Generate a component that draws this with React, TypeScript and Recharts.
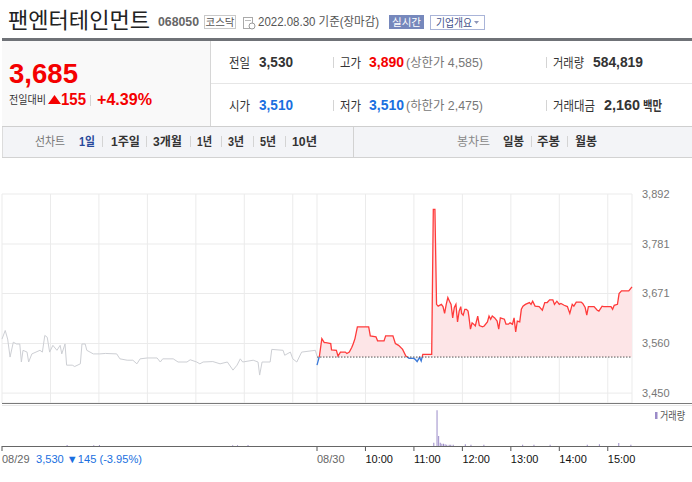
import React from 'react';
import { ComposedChart, Line, Area, Bar, XAxis, YAxis, CartesianGrid, ReferenceLine } from 'recharts';

const FONT = "'Liberation Sans', 'Noto Sans CJK KR', sans-serif";

// 08/29 line, minutes after 09:00
const prevMinutes = [0, 4, 7, 10, 14, 18, 22, 24, 26, 31, 33, 37, 47, 50, 53, 56, 59, 63, 68, 72, 74, 78, 80, 87, 90, 97, 99, 103, 105, 109, 113, 121, 128, 142, 146, 155, 162, 167, 171, 180, 192, 196, 199, 212, 218, 229, 233, 241, 245, 249, 261, 270, 279, 286, 291, 295, 298, 311, 317, 319, 322, 332, 334, 348, 350, 357, 360, 365, 371, 388, 390];
const prevPrices = [3570, 3589, 3570, 3530, 3563, 3559, 3559, 3519, 3545, 3541, 3519, 3537, 3545, 3541, 3578, 3574, 3541, 3556, 3545, 3556, 3537, 3559, 3512, 3512, 3509, 3515, 3559, 3559, 3545, 3541, 3537, 3537, 3538, 3537, 3526, 3523, 3523, 3515, 3526, 3528, 3528, 3519, 3526, 3526, 3519, 3519, 3524, 3519, 3515, 3519, 3520, 3515, 3519, 3501, 3512, 3526, 3519, 3523, 3519, 3490, 3519, 3519, 3547, 3545, 3534, 3541, 3526, 3519, 3541, 3545, 3532];

// 08/30 line, minutes after 09:00
const todayMinutes = [0, 3, 6, 9, 11, 17, 18, 24, 26, 29, 35, 37, 40, 43, 45, 47, 50, 64, 66, 73, 75, 83, 85, 94, 97, 101, 106, 110, 114, 120, 122, 124, 127, 129, 131, 142, 144, 146, 148, 150, 154, 156, 158, 160, 162, 164, 166, 168, 170, 172, 174, 176, 178, 179, 181, 183, 185, 187, 188, 190, 192, 194, 196, 199, 201, 205, 207, 211, 213, 215, 217, 220, 223, 225, 227, 232, 234, 237, 239, 242, 244, 246, 248, 251, 253, 255, 258, 263, 265, 267, 270, 275, 279, 282, 285, 288, 292, 294, 297, 300, 302, 306, 310, 313, 316, 318, 321, 327, 329, 332, 334, 336, 343, 347, 349, 353, 355, 364, 366, 368, 372, 374, 377, 386, 390];
const todayPrices = [3512, 3532, 3571, 3562, 3562, 3560, 3546, 3545, 3532, 3541, 3541, 3538, 3541, 3551, 3560, 3571, 3597, 3597, 3577, 3575, 3566, 3566, 3577, 3577, 3560, 3556, 3547, 3532, 3527, 3527, 3524, 3520, 3529, 3521, 3536, 3536, 3858, 3858, 3647, 3643, 3647, 3642, 3627, 3647, 3662, 3654, 3647, 3617, 3640, 3647, 3608, 3632, 3642, 3627, 3623, 3636, 3636, 3632, 3621, 3592, 3606, 3603, 3599, 3621, 3600, 3597, 3599, 3608, 3621, 3614, 3621, 3617, 3610, 3592, 3617, 3614, 3603, 3603, 3606, 3603, 3617, 3586, 3610, 3608, 3636, 3643, 3647, 3651, 3647, 3654, 3643, 3642, 3634, 3651, 3651, 3657, 3657, 3647, 3654, 3647, 3649, 3645, 3642, 3627, 3647, 3643, 3652, 3652, 3649, 3640, 3623, 3642, 3642, 3634, 3632, 3643, 3642, 3642, 3636, 3645, 3647, 3671, 3677, 3677, 3686];

const prevClose = 3530;
const priceTicks = [3450, 3560, 3671, 3781, 3892];

// volume bars
const volPrevMinutes = [81, 114, 121, 286, 292, 305];
const volPrevValues = [6000, 5000, 6000, 5000, 5000, 6000];
const volTodayMinutes = [145, 149, 151, 153, 155, 157, 159, 161, 164, 166, 169, 184, 191, 207, 255, 269, 289, 335, 350, 374, 389];
const volTodayValues = [19000, 210000, 58000, 19000, 13500, 13500, 10000, 8000, 8000, 8000, 8000, 10000, 8000, 8000, 8000, 8000, 8000, 8000, 10000, 17500, 8000];

const gridTicks = [0, 60, 120, 180, 240, 300, 360, 390, 450, 510, 570, 630, 690, 750];
const axisTicks = [0, 390, 450, 510, 570, 630, 690, 750];
const axisLabels = ['08/29', '08/30', '10:00', '11:00', '12:00', '13:00', '14:00', '15:00'];

const DAY = 390;

const priceRows = [
  ...prevMinutes.map((m, i) => ({ t: m, prev: prevPrices[i] })),
  ...todayMinutes.map((m, i) => ({ t: DAY + m, today: todayPrices[i] })),
];
const volRows = [
  ...volPrevMinutes.map((m, i) => ({ t: m, vol: volPrevValues[i] })),
  ...volTodayMinutes.map((m, i) => ({ t: DAY + m, vol: volTodayValues[i] })),
];

const tMax = Math.max(...todayPrices);
const tMin = Math.min(...todayPrices, prevClose);
const split = (tMax - prevClose) / (tMax - tMin);

const RED = '#f40000';
const BLUE = '#1a6fe0';

const T = ({ x, y, w, size = 13, color = '#333', bold = false, anchor, children }: any) => (
  <text
    x={x}
    y={y}
    fontSize={size}
    fill={color}
    fontWeight={bold ? 'bold' : 'normal'}
    textLength={w}
    lengthAdjust={w ? 'spacingAndGlyphs' : undefined}
    textAnchor={anchor}
  >
    {children}
  </text>
);

const Sep = ({ x, y1, y2 }: any) => <line x1={x + 0.5} x2={x + 0.5} y1={y1} y2={y2} stroke="#d4d4d4" />;

const Header = () => (
  <svg width={692} height={160} style={{ position: 'absolute', left: 0, top: 0, fontFamily: FONT }}>
    <T x={8} y={28} w={142} size={22} color="#222">팬엔터테인먼트</T>
    <T x={158} y={26} w={41} size={12.5} color="#666" bold>068050</T>
    <rect x={204.5} y={15.5} width={31} height={13} fill="#fff" stroke="#c9c9c9" />
    <T x={220} y={26} size={10.5} color="#555" anchor="middle">코스닥</T>
    <rect x={243.5} y={17.5} width={9} height={11} fill="#fff" stroke="#aaa" />
    <line x1={245} x2={251} y1={20.5} y2={20.5} stroke="#bbb" />
    <circle cx={252} cy={26} r={3} fill="#fff" stroke="#999" />
    <T x={258} y={26} w={121} size={12.5} color="#555">2022.08.30 기준(장마감)</T>
    <rect x={389} y={15} width={35} height={14} fill="#7688bc" />
    <T x={406.5} y={26} size={10.5} color="#fff" anchor="middle">실시간</T>
    <rect x={430.5} y={15.5} width={54} height={14} fill="#fff" stroke="#a9b4d8" />
    <T x={436} y={26.5} w={36} size={11} color="#41508a">기업개요</T>
    <path d="M474 21 L479 21 L476.5 24 Z" fill="#8d96b8" />

    <rect x={2} y={38} width={690} height={3} fill="#6f7277" />
    <rect x={2} y={41} width={208} height={85} fill="#f9f9f9" />
    <line x1={210.5} x2={210.5} y1={41} y2={126} stroke="#d6d6d6" />
    <line x1={211} x2={692} y1={83.5} y2={83.5} stroke="#e6e6e6" />
    <line x1={2} x2={692} y1={126.5} y2={126.5} stroke="#cfcfcf" />

    <T x={9} y={83} w={69} size={28} color={RED} bold>3,685</T>
    <T x={9} y={104} w={37} size={11.5} color="#333">전일대비</T>
    <path d="M48 104 L54.5 95 L61 104 Z" fill={RED} />
    <T x={61} y={105} w={25} size={16} color={RED} bold>155</T>
    <Sep x={90} y1={95} y2={106} />
    <T x={97} y={105} w={55} size={16} color={RED} bold>+4.39%</T>

    <T x={229} y={67} w={21} size={13}>전일</T>
    <T x={259} y={67} w={34} size={14} bold>3,530</T>
    <Sep x={333} y1={57} y2={68} />
    <T x={340} y={67} w={21} size={13}>고가</T>
    <T x={369} y={67} w={35} size={14} color={RED} bold>3,890</T>
    <T x={406} y={67} w={77} size={12.5} color="#777">(상한가 4,585)</T>
    <Sep x={546} y1={57} y2={68} />
    <T x={553} y={67} w={31} size={13}>거래량</T>
    <T x={593} y={67} w={50} size={14} bold>584,819</T>

    <T x={229} y={110} w={21} size={13}>시가</T>
    <T x={259} y={110} w={34} size={14} color={BLUE} bold>3,510</T>
    <Sep x={333} y1={100} y2={111} />
    <T x={340} y={110} w={21} size={13}>저가</T>
    <T x={369} y={110} w={35} size={14} color={BLUE} bold>3,510</T>
    <T x={406} y={110} w={77} size={12.5} color="#777">(하한가 2,475)</T>
    <Sep x={546} y1={100} y2={111} />
    <T x={553} y={110} w={42} size={13}>거래대금</T>
    <T x={604} y={110} w={36} size={14} bold>2,160</T>
    <T x={643} y={110} w={19} size={13} bold>백만</T>

    <rect x={2} y={127} width={690} height={30} fill="#f3f4f7" />
    <line x1={2} x2={692} y1={157.5} y2={157.5} stroke="#d2d2d2" />
    <line x1={2.5} x2={2.5} y1={127} y2={157} stroke="#dcdcdc" />
    <line x1={353.5} x2={353.5} y1={127} y2={157} stroke="#d2d2d2" />
    <T x={35} y={146} w={30} size={12.5} color="#777">선차트</T>
    <T x={79} y={146} w={16} size={12.5} color="#27489a" bold>1일</T>
    <Sep x={102} y1={136} y2={147} />
    <T x={111} y={146} w={29} size={12.5} bold>1주일</T>
    <Sep x={146} y1={136} y2={147} />
    <T x={153} y={146} w={29} size={12.5} bold>3개월</T>
    <Sep x={190} y1={136} y2={147} />
    <T x={197} y={146} w={15} size={12.5} bold>1년</T>
    <Sep x={221} y1={136} y2={147} />
    <T x={228} y={146} w={16} size={12.5} bold>3년</T>
    <Sep x={253} y1={136} y2={147} />
    <T x={260} y={146} w={16} size={12.5} bold>5년</T>
    <Sep x={285} y1={136} y2={147} />
    <T x={292} y={146} w={25} size={12.5} bold>10년</T>
    <T x={457} y={146} w={33} size={12.5} color="#888">봉차트</T>
    <T x={503} y={146} w={21} size={12.5} bold>일봉</T>
    <Sep x={531} y1={136} y2={147} />
    <T x={537} y={146} w={23} size={12.5} bold>주봉</T>
    <Sep x={567} y1={136} y2={147} />
    <T x={575} y={146} w={22} size={12.5} bold>월봉</T>
  </svg>
);

const TimeTick = (props: any) => {
  const { x, y, payload } = props;
  const i = axisTicks.indexOf(payload.value);
  const label = axisLabels[i];
  const isTime = i >= 2;
  return (
    <g style={{ fontFamily: FONT }}>
      <text x={x} y={y + 10} fontSize={11} fill={isTime ? '#111' : '#666'}>{label}</text>
      {i === 0 && (
        <text x={x + 34} y={y + 10} fontSize={11} fill={BLUE} textLength={106} lengthAdjust="spacingAndGlyphs">
          3,530 ▼145 (-3.95%)
        </text>
      )}
    </g>
  );
};

export default function App() {
  return (
    <div style={{ position: 'absolute', left: 0, top: 0, width: 692, height: 482, background: '#fff', overflow: 'hidden', fontFamily: FONT }}>
      <Header />
      <div style={{ position: 'absolute', left: 0, top: 180 }}>
        <ComposedChart width={692} height={223} data={priceRows} margin={{ top: 14, right: 0, bottom: 0, left: 2 }}>
          <defs>
            <linearGradient id="pStroke" x1="0" y1="0" x2="0" y2="1">
              <stop offset={0} stopColor="#ff3a3a" />
              <stop offset={split} stopColor="#ff3a3a" />
              <stop offset={split} stopColor="#3a78d8" />
              <stop offset={1} stopColor="#3a78d8" />
            </linearGradient>
            <linearGradient id="pFill" x1="0" y1="0" x2="0" y2="1">
              <stop offset={0} stopColor="#fde5e7" />
              <stop offset={split} stopColor="#fde5e7" />
              <stop offset={split} stopColor="#e3ecf9" />
              <stop offset={1} stopColor="#e3ecf9" />
            </linearGradient>
          </defs>
          <CartesianGrid stroke="#ebebeb" />
          <XAxis type="number" dataKey="t" domain={[0, 780]} ticks={gridTicks} interval={0} hide />
          <YAxis
            orientation="right"
            width={60}
            domain={[3428, 3892]}
            ticks={priceTicks}
            interval={0}
            allowDataOverflow
            tickLine={false}
            axisLine={false}
            tickMargin={4}
            tick={{ fill: '#777', fontSize: 11, fontFamily: FONT }}
            tickFormatter={(v: number) => v.toLocaleString('en-US')}
          />
          <Line type="linear" dataKey="prev" stroke="#cdcfd4" strokeWidth={1} dot={false} isAnimationActive={false} />
          <Area
            type="linear"
            dataKey="today"
            baseValue={prevClose}
            stroke="url(#pStroke)"
            strokeWidth={1.3}
            fill="url(#pFill)"
            fillOpacity={1}
            dot={false}
            isAnimationActive={false}
          />
          <ReferenceLine
            segment={[{ x: DAY, y: prevClose }, { x: 780, y: prevClose }]}
            stroke="#555"
            strokeDasharray="1.5 1.5"
          />
        </ComposedChart>
      </div>
      <div style={{ position: 'absolute', left: 2, top: 403, width: 690, height: 1, background: '#7a7a7a' }} />
      <div style={{ position: 'absolute', left: 2, top: 405, width: 690, height: 1, background: '#e8e8e8' }} />
      <div style={{ position: 'absolute', left: 0, top: 404 }}>
        <ComposedChart width={692} height={70} data={volRows} margin={{ top: 1, right: 60, bottom: 0, left: 2 }}>
          <XAxis
            type="number"
            dataKey="t"
            domain={[0, 780]}
            ticks={axisTicks}
            interval={0}
            axisLine={false}
            tickLine={{ stroke: '#555' }}
            tickSize={5}
            height={28}
            tick={<TimeTick />}
          />
          <YAxis hide domain={[0, 240000]} />
          <Bar dataKey="vol" fill="#9b8bc8" barSize={1} isAnimationActive={false} />
        </ComposedChart>
      </div>
      <div style={{ position: 'absolute', left: 2, top: 446, width: 690, height: 1, background: '#666' }} />
      <svg width={40} height={14} style={{ position: 'absolute', left: 652, top: 409, fontFamily: FONT }}>
        <rect x={3} y={3} width={2.5} height={7} fill="#9b8bc8" />
        <text x={8} y={10.5} fontSize={11} fill="#555" textLength={25} lengthAdjust="spacingAndGlyphs">거래량</text>
      </svg>
    </div>
  );
}
